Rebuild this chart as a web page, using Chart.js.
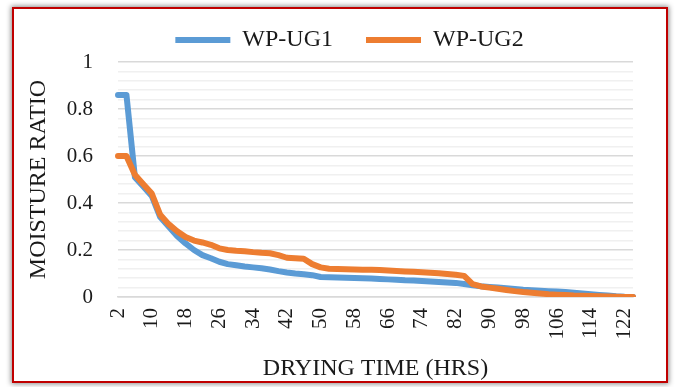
<!DOCTYPE html>
<html>
<head>
<meta charset="utf-8">
<script src="https://cdn.jsdelivr.net/npm/chart.js@4.4.0/dist/chart.umd.min.js"></script>
<style>
  html, body { margin: 0; padding: 0; background: #fff; }
  #frame {
    position: absolute; left: 12px; top: 7px;
    width: 652px; height: 372px;
    border: 2px solid #c00000;
    box-shadow: 0 0 5px 1px rgba(0,0,0,0.45);
    background: #fff;
  }
  #frame canvas { display: block; }
</style>
</head>
<body>
<div id="frame"><canvas id="chart" width="652" height="372"></canvas></div>
<script>
// Drying time in hours (one reading every 2 h)
const hours = [2, 4, 6, 8, 10, 12, 14, 16, 18, 20, 22, 24, 26, 28, 30, 32, 34, 36, 38, 40,
  42, 44, 46, 48, 50, 52, 54, 56, 58, 60, 62, 64, 66, 68, 70, 72, 74, 76, 78, 80,
  82, 84, 86, 88, 90, 92, 94, 96, 98, 100, 102, 104, 106, 108, 110, 112, 114, 116, 118, 120,
  122, 124];

// Moisture ratio, sample WP-UG1
const wpUg1 = [0.86, 0.86, 0.51, 0.47, 0.43, 0.34, 0.30, 0.26, 0.228, 0.20,
  0.178, 0.165, 0.15, 0.14, 0.135, 0.13, 0.126, 0.122, 0.117, 0.11,
  0.104, 0.10, 0.097, 0.093, 0.085, 0.084, 0.083, 0.082, 0.081, 0.08,
  0.079, 0.077, 0.075, 0.073, 0.071, 0.07, 0.068, 0.066, 0.064, 0.062,
  0.06, 0.055, 0.05, 0.046, 0.043, 0.04, 0.037, 0.034, 0.031, 0.029,
  0.027, 0.025, 0.023, 0.021, 0.018, 0.015, 0.012, 0.009, 0.006, 0.003,
  0.001, 0];

// Moisture ratio, sample WP-UG2
const wpUg2 = [0.60, 0.60, 0.52, 0.48, 0.44, 0.35, 0.31, 0.28, 0.255, 0.24,
  0.232, 0.222, 0.207, 0.20, 0.197, 0.195, 0.191, 0.188, 0.186, 0.178,
  0.167, 0.165, 0.163, 0.14, 0.126, 0.12, 0.119, 0.118, 0.117, 0.116,
  0.116, 0.115, 0.113, 0.111, 0.109, 0.107, 0.105, 0.103, 0.101, 0.098,
  0.095, 0.09, 0.055, 0.045, 0.04, 0.035, 0.03, 0.025, 0.021, 0.018,
  0.015, 0.012, 0.01, 0.008, 0.006, 0.005, 0.004, 0.003, 0.002, 0.001,
  0, 0];

// Hours that carry a label on the time axis
const xTickLabels = [2, 10, 18, 26, 34, 42, 50, 58, 66, 74, 82, 90, 98, 106, 114, 122];
// Labelled moisture-ratio values (minor gridlines sit between them)
const yTickLabels = [0, 0.2, 0.4, 0.6, 0.8, 1];

const FONT = "'Liberation Serif', 'Times New Roman', serif";
const TEXT = '#1a1a1a';

const isMajor = v => yTickLabels.some(t => Math.abs(t - v) < 1e-6);

// Legend band: fixed height above the plot, items nudged into place
const LEGEND_BAND = 53;
const LEGEND_CENTER_Y = 31;
const LEGEND_SHIFT_X = 21;
const LEGEND_GAP = 33;
const LEGEND_FONT = 24;

const legendPlacement = {
  id: 'legendPlacement',
  afterInit(chart) {
    const lg = chart.legend;
    const fit = lg.fit;
    lg.fit = function () {
      fit.call(this);
      this.height = LEGEND_BAND;
    };
  },
  afterLayout(chart) {
    const lg = chart.legend;
    lg.left += LEGEND_SHIFT_X;
    lg.right += LEGEND_SHIFT_X;
    lg.top = LEGEND_CENTER_Y - LEGEND_FONT / 2 - LEGEND_GAP;
  }
};

new Chart(document.getElementById('chart'), {
  type: 'line',
  data: {
    labels: hours,
    datasets: [
      {
        label: 'WP-UG1',
        data: wpUg1,
        borderColor: '#5b9bd5',
        backgroundColor: '#5b9bd5',
        borderWidth: 6,
        borderCapStyle: 'round',
        borderJoinStyle: 'round',
        pointRadius: 0,
        tension: 0,
        order: 2
      },
      {
        label: 'WP-UG2',
        data: wpUg2,
        borderColor: '#ed7d31',
        backgroundColor: '#ed7d31',
        borderWidth: 6,
        borderCapStyle: 'round',
        borderJoinStyle: 'round',
        pointRadius: 0,
        tension: 0,
        order: 1
      }
    ]
  },
  plugins: [legendPlacement],
  options: {
    responsive: false,
    animation: false,
    layout: { padding: { left: 10, right: 33, top: 0, bottom: 0 } },
    plugins: {
      tooltip: { enabled: false },
      legend: {
        position: 'top',
        labels: {
          usePointStyle: true,
          pointStyle: 'line',
          pointStyleWidth: 55,
          padding: LEGEND_GAP,
          color: TEXT,
          font: { family: FONT, size: LEGEND_FONT },
          sort: (a, b) => a.datasetIndex - b.datasetIndex
        }
      }
    },
    scales: {
      x: {
        type: 'category',
        offset: false,
        grid: { display: false, drawTicks: false },
        border: { display: true, color: '#d9d9d9', width: 1.5 },
        ticks: {
          autoSkip: false,
          maxRotation: 90,
          minRotation: 90,
          padding: 11,
          color: TEXT,
          font: { family: FONT, size: 21 },
          callback: function (value, index) {
            const h = hours[index];
            return xTickLabels.includes(h) ? String(h) : '';
          }
        },
        title: {
          display: true,
          text: 'DRYING TIME (HRS)',
          color: TEXT,
          font: { family: FONT, size: 24, lineHeight: 1.05 },
          padding: { top: 0, bottom: 0 }
        },
        afterFit: s => {
          s.height = 84;
          s.paddingLeft = 0;
          s.paddingRight = 0;
        }
      },
      y: {
        min: 0,
        max: 1,
        ticks: {
          stepSize: 0.04,
          autoSkip: false,
          padding: 25,
          color: TEXT,
          font: { family: FONT, size: 21 },
          callback: v => isMajor(v) ? String(Math.round(v * 10) / 10) : ''
        },
        grid: {
          drawTicks: false,
          lineWidth: 1.5,
          color: ctx => isMajor(ctx.tick.value) ? '#d9d9d9' : '#f0f0f0'
        },
        border: { display: false },
        title: {
          display: true,
          text: 'MOISTURE RATIO',
          color: TEXT,
          font: { family: FONT, size: 24 },
          padding: { top: 0, bottom: 0 }
        },
        afterFit: s => { s.width = 94; }
      }
    }
  }
});
</script>
</body>
</html>
